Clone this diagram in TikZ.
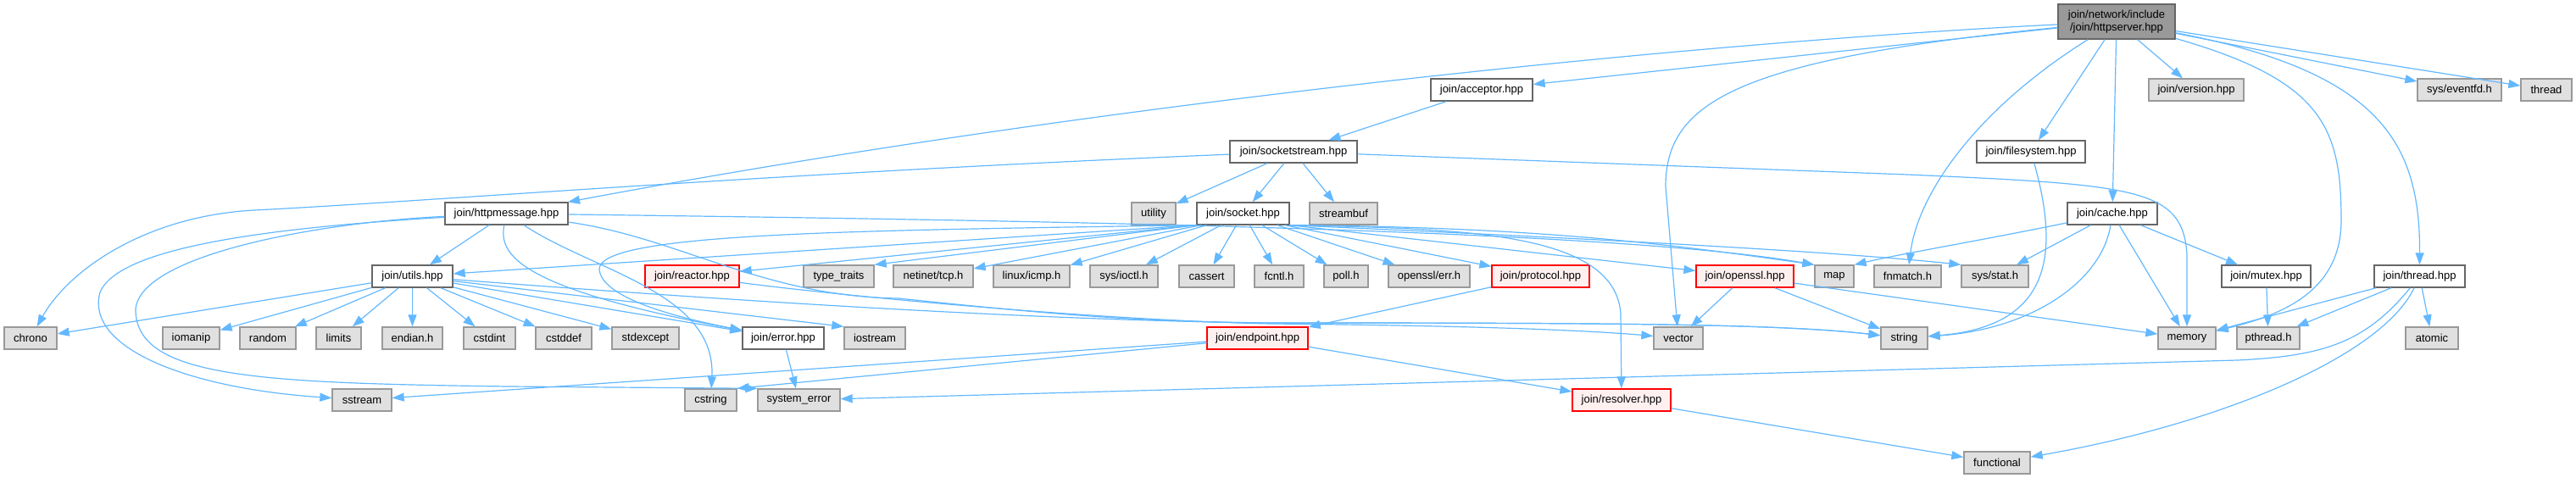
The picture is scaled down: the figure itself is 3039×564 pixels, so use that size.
\documentclass[tikz,border=0pt]{standalone}
\usepackage{fontspec}
\setmainfont{Liberation Sans}
\usepackage{tikz}
\usetikzlibrary{arrows.meta}
\definecolor{EdgeCol}{HTML}{63B8FF}
\definecolor{SysFill}{HTML}{E0E0E0}
\definecolor{SysFrame}{HTML}{999999}
\definecolor{FileFrame}{HTML}{666666}
\definecolor{TruncFill}{HTML}{FFF0F0}
\definecolor{TruncFrame}{HTML}{FF0000}
\definecolor{RootFill}{HTML}{999999}

\begin{document}
\begin{tikzpicture}[x=1pt, y=-1pt, >={Triangle[length=14pt,width=10pt]}]
  \tikzstyle{hdr}=[draw=FileFrame, line width=1.3pt, inner sep=0pt,
               minimum height=26pt, font=\fontsize{13}{15}\selectfont]
  \tikzstyle{filebox}=[hdr, fill=white]
  \tikzstyle{sysbox}=[hdr, fill=SysFill, draw=SysFrame]
  \tikzstyle{truncbox}=[hdr, fill=TruncFill, draw=TruncFrame]
  \tikzstyle{rootbox}=[hdr, fill=RootFill, minimum height=41pt, align=center]
  \tikzstyle{dep}=[->, draw=EdgeCol, line width=1.2pt]
  \useasboundingbox (0,0) rectangle (3039,564);
  % top file
  \node[rootbox, minimum width=138pt] (root) at (2497,25.5) {join/network/include\\/join/httpserver.hpp};
  % row 1
  \node[filebox, minimum width=120pt] (acceptor) at (1748,106) {join/acceptor.hpp};
  \node[sysbox, minimum width=112pt] (version) at (2591,106) {join/version.hpp};
  \node[sysbox, minimum width=99pt] (eventfd) at (2901.5,106) {sys/eventfd.h};
  \node[sysbox, minimum width=60pt] (thread) at (3004,106) {thread};
  % row 2
  \node[filebox, minimum width=150pt] (sockstream) at (1526,179) {join/socketstream.hpp};
  \node[filebox, minimum width=128pt] (filesystem) at (2396,179) {join/filesystem.hpp};
  % row 3
  \node[filebox, minimum width=145pt] (httpmsg) at (597.5,252) {join/httpmessage.hpp};
  \node[sysbox, minimum width=52pt] (utility) at (1361,252) {utility};
  \node[filebox, minimum width=109pt] (socket) at (1466.5,252) {join/socket.hpp};
  \node[sysbox, minimum width=80pt] (streambuf) at (1585,252) {streambuf};
  \node[filebox, minimum width=106pt] (cache) at (2492,252) {join/cache.hpp};
  % row 4
  \node[filebox, minimum width=95pt] (utils) at (486.5,326) {join/utils.hpp};
  \node[truncbox, minimum width=111pt] (reactor) at (816.5,326) {join/reactor.hpp};
  \node[sysbox, minimum width=83pt] (typetraits) at (989.5,326) {type\_traits};
  \node[sysbox, minimum width=94pt] (tcp) at (1101,326) {netinet/tcp.h};
  \node[sysbox, minimum width=90pt] (icmp) at (1217,326) {linux/icmp.h};
  \node[sysbox, minimum width=80pt] (ioctl) at (1326,326) {sys/ioctl.h};
  \node[sysbox, minimum width=65pt] (cassert) at (1423.5,326) {cassert};
  \node[sysbox, minimum width=58pt] (fcntl) at (1509,326) {fcntl.h};
  \node[sysbox, minimum width=52pt] (poll) at (1588,326) {poll.h};
  \node[sysbox, minimum width=96pt] (sslerr) at (1686,326) {openssl/err.h};
  \node[truncbox, minimum width=115pt] (protocol) at (1817.5,326) {join/protocol.hpp};
  \node[truncbox, minimum width=115pt] (openssl) at (2058.5,326) {join/openssl.hpp};
  \node[sysbox, minimum width=46pt] (map) at (2164,326) {map};
  \node[sysbox, minimum width=79pt] (fnmatch) at (2250.5,326) {fnmatch.h};
  \node[sysbox, minimum width=79pt] (sysstat) at (2353.5,326) {sys/stat.h};
  \node[filebox, minimum width=105pt] (mutex) at (2673.5,326) {join/mutex.hpp};
  \node[filebox, minimum width=107pt] (threadhpp) at (2854.5,326) {join/thread.hpp};
  % row 5
  \node[sysbox, minimum width=62pt] (chrono) at (36,399) {chrono};
  \node[sysbox, minimum width=67pt] (iomanip) at (225.5,399) {iomanip};
  \node[sysbox, minimum width=66pt] (random) at (316,399) {random};
  \node[sysbox, minimum width=53pt] (limits) at (399.5,399) {limits};
  \node[sysbox, minimum width=71pt] (endian) at (486.5,399) {endian.h};
  \node[sysbox, minimum width=61pt] (cstdint) at (577.5,399) {cstdint};
  \node[sysbox, minimum width=66pt] (cstddef) at (665,399) {cstddef};
  \node[sysbox, minimum width=79pt] (stdexcept) at (761.5,399) {stdexcept};
  \node[filebox, minimum width=96pt] (error) at (924,399) {join/error.hpp};
  \node[sysbox, minimum width=72pt] (iostream) at (1032,399) {iostream};
  \node[truncbox, minimum width=119pt] (endpoint) at (1483.5,399) {join/endpoint.hpp};
  \node[sysbox, minimum width=58pt] (vector) at (1980,399) {vector};
  \node[sysbox, minimum width=55pt] (string) at (2246.5,399) {string};
  \node[sysbox, minimum width=68pt] (memory) at (2580,399) {memory};
  \node[sysbox, minimum width=74pt] (pthread) at (2676,399) {pthread.h};
  \node[sysbox, minimum width=62pt] (atomic) at (2869,399) {atomic};
  % row 6
  \node[sysbox, minimum width=70pt] (sstream) at (427,472) {sstream};
  \node[sysbox, minimum width=61pt] (cstring) at (838.5,472) {cstring};
  \node[sysbox, minimum width=97pt] (syserror) at (942.5,472) {system\_error};
  \node[truncbox, minimum width=116pt] (resolver) at (1913,472) {join/resolver.hpp};
  % row 7
  \node[sysbox, minimum width=78pt] (functional) at (2356,546) {functional};

  % httpserver.hpp
  \draw[dep] (root) .. controls (2000,50) and (1300,120) .. (httpmsg);
  \draw[dep] (root) -- (acceptor);
  \draw[dep] (root) .. controls (2050,70) and (1965,120) .. (1965,220) -- (vector);
  \draw[dep] (root) .. controls (2330,130) and (2262,230) .. (fnmatch);
  \draw[dep] (root) -- (filesystem);
  \draw[dep] (root) -- (cache);
  \draw[dep] (root) -- (version);
  \draw[dep] (root) .. controls (2740,95) and (2762,150) .. (2762,260)
                     .. controls (2762,345) and (2690,372) .. (memory);
  \draw[dep] (root) .. controls (2810,85) and (2855,170) .. (threadhpp);
  \draw[dep] (root) -- (eventfd);
  \draw[dep] (root) -- (thread);
  % acceptor, socketstream
  \draw[dep] (acceptor) -- (sockstream);
  \draw[dep] (sockstream) .. controls (900,205) and (500,238) .. (300,248)
                           .. controls (170,255) and (80,320) .. (chrono);
  \draw[dep] (sockstream) -- (utility);
  \draw[dep] (sockstream) -- (socket);
  \draw[dep] (sockstream) -- (streambuf);
  \draw[dep] (sockstream) -- (2250,206) .. controls (2520,218) and (2575,222) .. (2580,300) -- (memory);
  % httpmessage
  \draw[dep] (httpmsg) -- (utils);
  \draw[dep] (httpmsg) .. controls (588,300) and (610,340) .. (error);
  \draw[dep] (httpmsg) .. controls (700,320) and (845,345) .. (cstring);
  \draw[dep] (httpmsg) .. controls (330,268) and (140,290) .. (118,345)
                        .. controls (100,410) and (220,458) .. (sstream);
  \draw[dep] (httpmsg) .. controls (380,262) and (165,300) .. (160,365)
                        .. controls (160,445) and (300,452) .. (600,456) -- (syserror.north west);
  \draw[dep] (httpmsg) .. controls (1200,260) and (1900,270) .. (map.north west);
  \draw[dep] (httpmsg) .. controls (800,280) and (900,350) .. (1060,352)
                        .. controls (1250,372) and (1350,380) .. (1500,381)
                        .. controls (1900,381) and (2100,382) .. (string);
  % socket
  \draw[dep] (socket.south west) -- (utils);
  \draw[dep] (socket.south west) -- (reactor);
  \draw[dep] (socket.south west) -- (typetraits.north east);
  \draw[dep] ([xshift=6pt]socket.south west) -- (tcp);
  \draw[dep] ([xshift=12pt]socket.south west) -- (icmp);
  \draw[dep] (socket) -- (ioctl);
  \draw[dep] (socket) -- (cassert);
  \draw[dep] (socket) -- (fcntl);
  \draw[dep] (socket) -- (poll);
  \draw[dep] (socket) -- (sslerr);
  \draw[dep] ([xshift=-6pt]socket.south east) -- (protocol);
  \draw[dep] (socket.south east) -- (openssl);
  \draw[dep] (socket.south east) .. controls (1800,268) and (1950,285) .. (map.north west);
  \draw[dep] (socket.south east) .. controls (1800,278) and (2150,295) .. (sysstat.north west);
  \draw[dep] (socket.south east) .. controls (1720,270) and (1905,272) .. (1912,370) -- (resolver);
  \draw[dep] (socket.south west) .. controls (1000,272) and (705,275) .. (707,318)
                       .. controls (710,352) and (800,375) .. (error);
  % utils
  \draw[dep] (utils) -- (chrono);
  \draw[dep] (utils) -- (iomanip);
  \draw[dep] (utils) -- (random);
  \draw[dep] (utils) -- (limits);
  \draw[dep] (utils) -- (endian);
  \draw[dep] (utils) -- (cstdint);
  \draw[dep] (utils) -- (cstddef);
  \draw[dep] (utils) -- (stdexcept);
  \draw[dep] (utils) -- (error);
  \draw[dep] (utils) -- (iostream.north west);
  \draw[dep] (utils) .. controls (800,350) and (1200,378) .. (1500,381)
                      .. controls (1900,381) and (2100,382) .. (string);
  % reactor, protocol, endpoint
  \draw[dep] (reactor) .. controls (1000,350) and (1300,378) .. (1500,382)
                        .. controls (1700,384) and (1850,388) .. (vector);
  \draw[dep] (protocol) -- (endpoint);
  \draw[dep] (endpoint) -- (resolver);
  \draw[dep] (endpoint) -- (cstring.north east);
  \draw[dep] (endpoint) -- (sstream);
  \draw[dep] (error) -- (syserror);
  \draw[dep] (resolver) -- (functional);
  % openssl
  \draw[dep] (openssl) -- (vector);
  \draw[dep] (openssl) -- (string);
  \draw[dep] (openssl) -- (memory);
  % filesystem, cache, mutex
  \draw[dep] (filesystem) .. controls (2430,300) and (2420,385) .. (string);
  \draw[dep] (cache) .. controls (2330,285) and (2240,300) .. (map.north east);
  \draw[dep] (cache) -- (sysstat);
  \draw[dep] (cache) .. controls (2480,330) and (2400,388) .. (string);
  \draw[dep] (cache) -- (memory);
  \draw[dep] (cache) -- (mutex);
  \draw[dep] (mutex) -- (pthread);
  % thread.hpp
  \draw[dep] (threadhpp) -- (memory);
  \draw[dep] (threadhpp) -- (pthread);
  \draw[dep] (threadhpp) -- (atomic);
  \draw[dep] (threadhpp) .. controls (2810,420) and (2620,500) .. (functional);
  \draw[dep] (threadhpp) .. controls (2790,405) and (2740,420) .. (2640,425) -- (syserror);
\end{tikzpicture}
\end{document}
